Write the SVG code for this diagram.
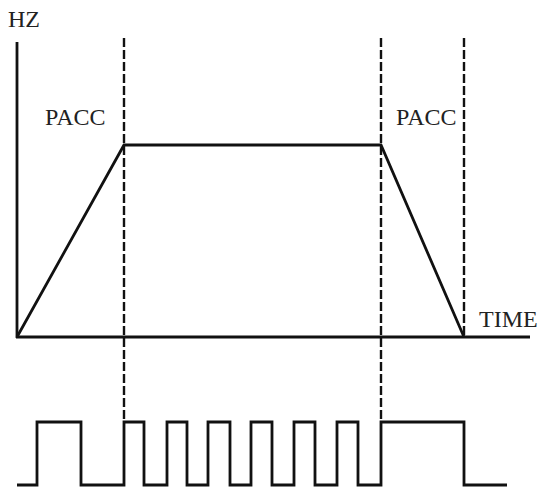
<svg xmlns="http://www.w3.org/2000/svg" width="540" height="488" viewBox="0 0 540 488">
<style>
.ln{fill:none;stroke:#111;stroke-width:2.8;stroke-linejoin:miter;stroke-linecap:butt}
.dash{fill:none;stroke:#111;stroke-width:2.4;stroke-dasharray:9 3}
.lbl{font-family:"Liberation Serif","Times New Roman",serif;font-size:24px;fill:#222}
</style>
<rect width="540" height="488" fill="#fff"/>
<g id="connectors">
<line class="dash" x1="124" y1="38" x2="124" y2="422"/>
<line class="dash" x1="381" y1="38" x2="381" y2="422"/>
<line class="dash" x1="464" y1="38" x2="464" y2="337"/>
<line class="ln" x1="17" y1="42" x2="17" y2="338"/>
<line class="ln" x1="16" y1="337" x2="530" y2="337"/>
<polyline class="ln" points="17,337 124,145 381,145 464,337"/>
<polyline class="ln" points="17,485 37,485 37,422 81,422 81,485 124,485 124,422 144,422 144,485 167,485 167,422 187,422 187,485 208,485 208,422 230,422 230,485 251,485 251,422 272,422 272,485 294,485 294,422 315,422 315,485 337,485 337,422 358,422 358,485 381,485 381,422 464,422 464,485 507,485"/>
</g>
<g id="label-hz"><text class="lbl" x="8" y="27">HZ</text></g>
<g id="label-pacc1"><text class="lbl" x="45" y="125">PACC</text></g>
<g id="label-pacc2"><text class="lbl" x="396" y="125">PACC</text></g>
<g id="label-time"><text class="lbl" x="479" y="327">TIME</text></g>
</svg>
